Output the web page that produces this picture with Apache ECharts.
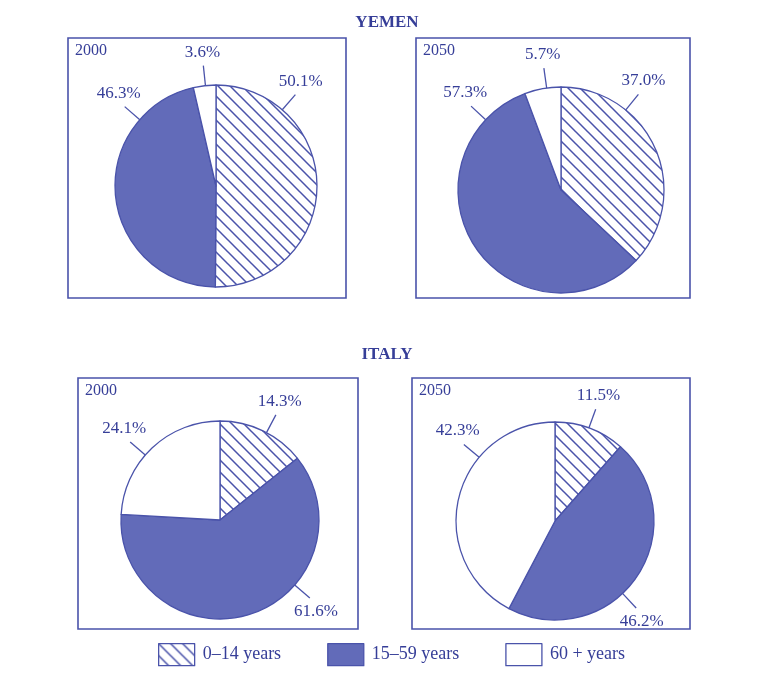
<!DOCTYPE html>
<html><head><meta charset="utf-8">
<script src="https://cdn.jsdelivr.net/npm/echarts@6/dist/echarts.min.js"></script>
<style>html,body{margin:0;padding:0;background:#fff}#c{width:774px;height:676px}</style>
</head><body><div id="c"></div>
<script>
// ---- data ----
const categories = ['0–14 years', '15–59 years', '60 + years'];
const yemen2000 = [50.1, 46.3, 3.6];
const yemen2050 = [37.0, 57.3, 5.7];
const italy2000 = [14.3, 61.6, 24.1];
const italy2050 = [11.5, 46.2, 42.3];
const panelYears = ['2000', '2050', '2000', '2050'];
const countryTitles = ['YEMEN', 'ITALY'];
const panelValues = [yemen2000, yemen2050, italy2000, italy2050];

// ---- layout / style ----
const TEXT = '#363e98', LINE = '#4a53aa', FILL = '#626bb9';
const FONT = 'Liberation Serif';
const panels = [
  { box: [68, 38, 278, 260], center: [216, 186], r: 101, labelAngles: [41, 311, 354] },
  { box: [416, 38, 274, 260], center: [561, 190], r: 103, labelAngles: [39, 313, 352] },
  { box: [78, 378, 280, 251], center: [220, 520], r: 99, labelAngles: [28, 131, 311] },
  { box: [412, 378, 278, 251], center: [555, 521], r: 99, labelAngles: [20, 137, 310] }
];
const LINE_LEN = 20;

function hatch() {
  const s = 12, c = document.createElement('canvas');
  c.width = c.height = s;
  const g = c.getContext('2d');
  g.fillStyle = '#fff'; g.fillRect(0, 0, s, s);
  g.strokeStyle = LINE; g.lineWidth = 1.5; g.beginPath();
  for (const k of [-s, 0, s]) { g.moveTo(k - 1, -1); g.lineTo(k + s + 1, s + 1); }
  g.stroke();
  return c;
}
const sliceColors = [{ image: hatch(), repeat: 'repeat' }, FILL, '#ffffff'];

const chart = echarts.init(document.getElementById('c'), null, { renderer: 'canvas' });

const series = panels.map((p, i) => ({
  type: 'pie',
  center: p.center,
  radius: p.r,
  startAngle: 90,
  clockwise: true,
  avoidLabelOverlap: false,
  silent: true,
  animation: false,
  data: categories.map((n, j) => ({ name: n, value: panelValues[i][j], itemStyle: { color: sliceColors[j] } })),
  itemStyle: { borderColor: LINE, borderWidth: 1.3 },
  label: {
    show: true, position: 'outside',
    formatter: q => q.value.toFixed(1) + '%',
    color: TEXT, fontFamily: FONT, fontSize: 17
  },
  labelLine: { show: true, length: LINE_LEN, length2: 0, smooth: false, lineStyle: { color: LINE, width: 1.3 } },
  labelLayout: function (params) {
    const pn = panels[params.seriesIndex];
    const a = pn.labelAngles[params.dataIndex] * Math.PI / 180;
    const ux = Math.sin(a), uy = -Math.cos(a);
    const p0 = [pn.center[0] + pn.r * ux, pn.center[1] + pn.r * uy];
    const p1 = [pn.center[0] + (pn.r + LINE_LEN) * ux, pn.center[1] + (pn.r + LINE_LEN) * uy];
    const hh = params.labelRect.height / 2;
    return {
      x: p1[0] + ux * 8,
      y: p1[1] + Math.sign(uy) * (hh + 5),
      align: 'center', verticalAlign: 'middle',
      labelLinePoints: [p0, p1, p1]
    };
  }
}));

const graphic = [];
panels.forEach((p, i) => {
  graphic.push({ type: 'rect', silent: true, shape: { x: p.box[0], y: p.box[1], width: p.box[2], height: p.box[3] },
    style: { fill: 'none', stroke: LINE, lineWidth: 1.6 } });
  graphic.push({ type: 'text', silent: true, left: p.box[0] + 7, top: p.box[1] + 5,
    style: { text: panelYears[i], fill: TEXT, font: '16px "' + FONT + '"' } });
});

chart.setOption({
  backgroundColor: '#fff',
  animation: false,
  title: [
    { text: countryTitles[0], left: 'center', top: 9, textStyle: { color: TEXT, fontFamily: FONT, fontWeight: 'bold', fontSize: 17 } },
    { text: countryTitles[1], left: 'center', top: 341, textStyle: { color: TEXT, fontFamily: FONT, fontWeight: 'bold', fontSize: 17 } }
  ],
  legend: {
    data: categories, left: 153, top: 638, itemWidth: 36, itemHeight: 22, itemGap: 46,
    icon: 'rect', selectedMode: false,
    itemStyle: { borderColor: LINE, borderWidth: 1.3 },
    textStyle: { color: TEXT, fontFamily: FONT, fontSize: 18, padding: [0, 0, 0, 3] }
  },
  graphic: graphic,
  series: series
});
</script>
</body></html>
